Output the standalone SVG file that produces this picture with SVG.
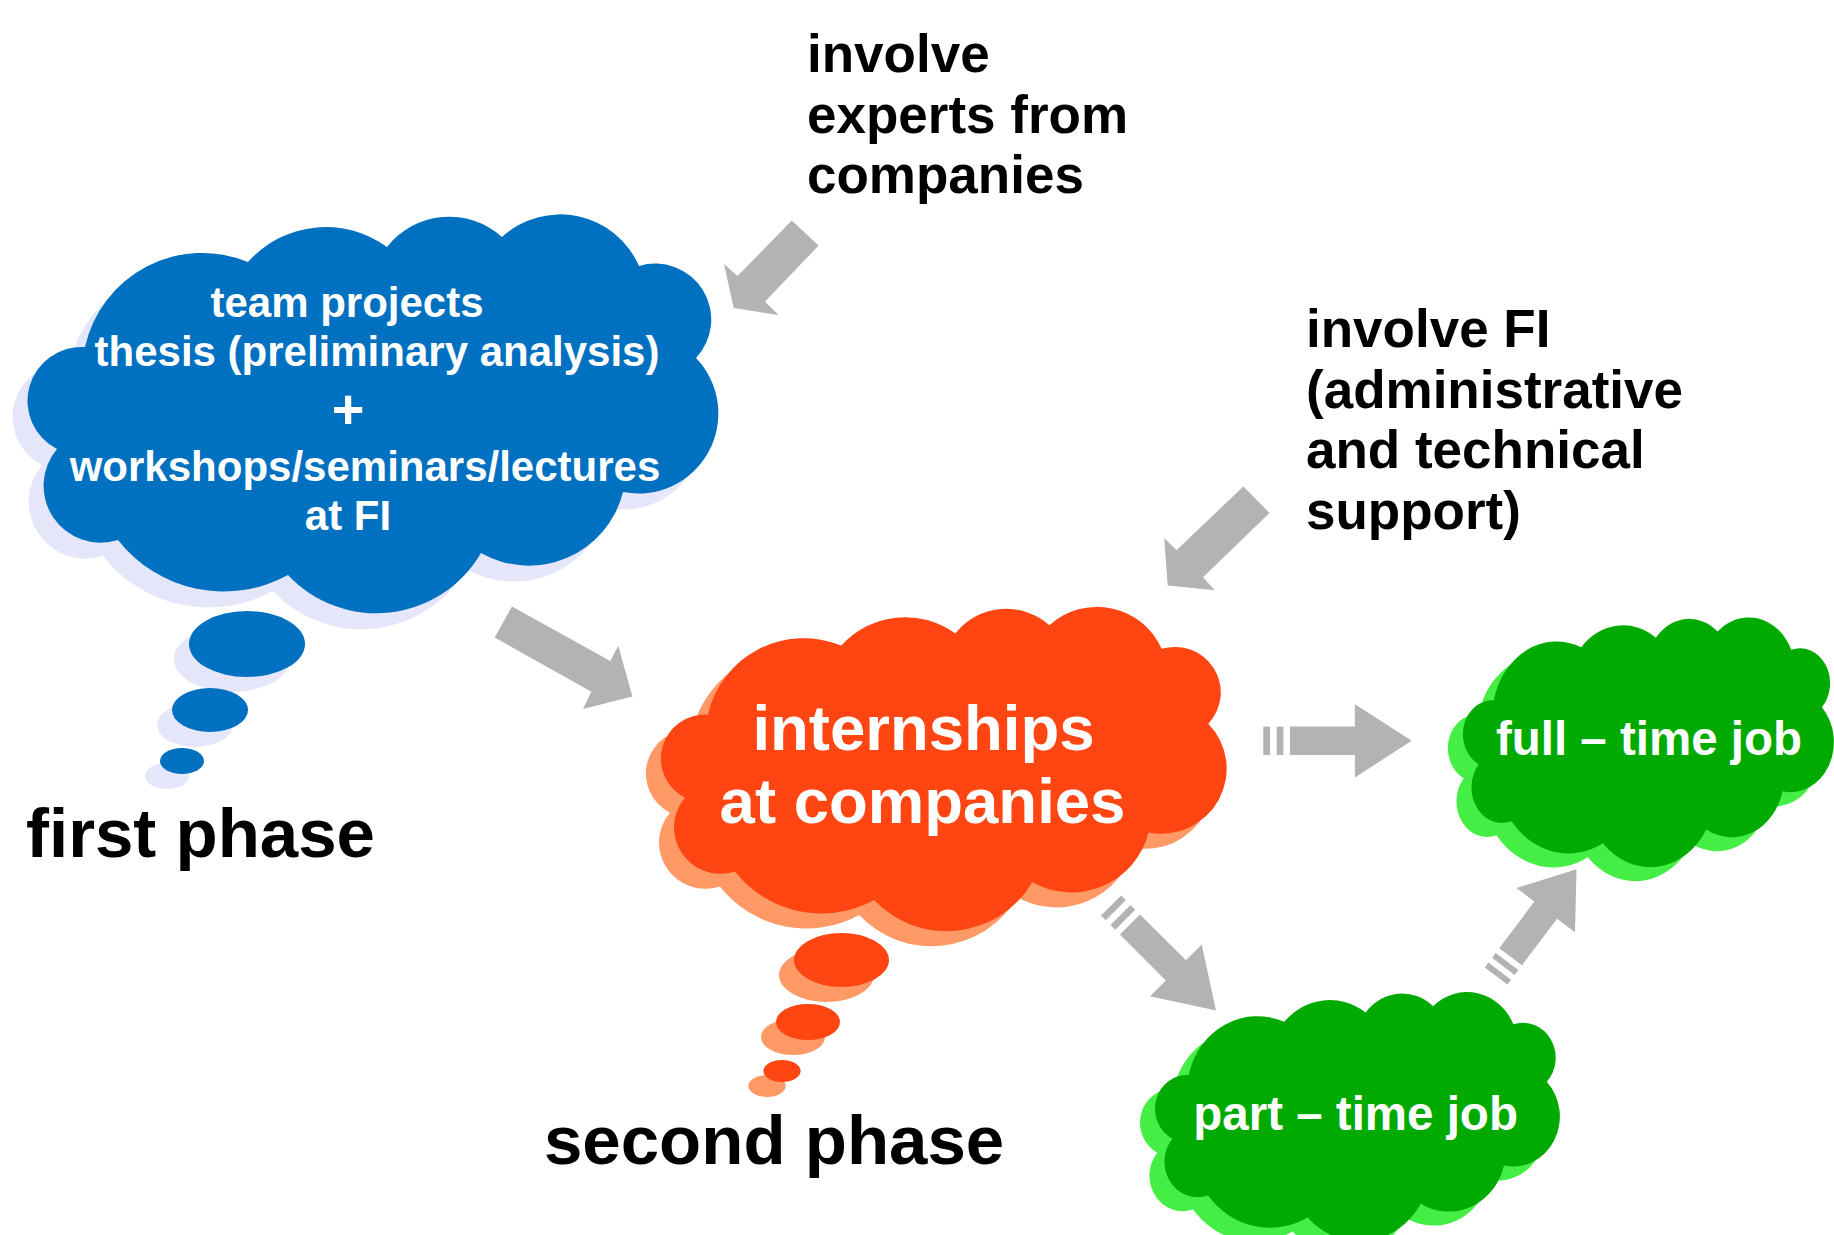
<svg xmlns="http://www.w3.org/2000/svg" xmlns:xlink="http://www.w3.org/1999/xlink" width="1834" height="1235" viewBox="0 0 1834 1235">
<style>
.t{font-family:"Liberation Sans",Arial,Helvetica,sans-serif;font-weight:bold}
.blk{fill:#000}
.wht{fill:#fff}
.mid{text-anchor:middle}
.blue{fill:#0070C0}
.blueS{fill:#E6E6FA}
.org{fill:#FF4512}
.orgS{fill:#FF9966}
.grn{fill:#00AA00}
.grnS{fill:#44EE44}
.arr{fill:#B3B3B3}
</style>
<defs>
<path id="cloud" d="M85 347 A120 120 0 0 1 248 262 A104 104 0 0 1 387 247 A79 79 0 0 1 502 237 A86 86 0 0 1 639 266 A56 56 0 0 1 696 358 A80 80 0 0 1 623 492 A97 97 0 0 1 481 553 A121 121 0 0 1 288 575 A134 134 0 0 1 118 540 A57 57 0 0 1 57 449 A54 54 0 0 1 85 347 Z"/>
<g id="sarrow">
<rect x="-148.4" y="-14.2" width="6.7" height="28.4"/>
<rect x="-135" y="-14.2" width="6.7" height="28.4"/>
<polygon points="-121.7,-14.2 -56.8,-14.2 -56.8,-36.6 0,0 -56.8,36.6 -56.8,14.2 -121.7,14.2"/>
</g>
</defs>
<rect width="1834" height="1235" fill="#fff"/>

<g id="label-experts" class="t blk" font-size="53">
<text x="807" y="72">involve</text>
<text x="807" y="132.5">experts from</text>
<text x="807" y="193">companies</text>
</g>

<g id="label-fi" class="t blk" font-size="53">
<text x="1306" y="347">involve FI</text>
<text x="1306" y="407.5">(administrative</text>
<text x="1306" y="468">and technical</text>
<text x="1306" y="528.5">support)</text>
</g>

<g id="node-first-phase">
<use xlink:href="#cloud" href="#cloud" class="blueS" transform="translate(-15,16)"/>
<ellipse class="blueS" cx="232" cy="659" rx="58" ry="33"/>
<ellipse class="blueS" cx="195" cy="725" rx="38" ry="22"/>
<ellipse class="blueS" cx="167" cy="776" rx="22" ry="13"/>
<use xlink:href="#cloud" href="#cloud" class="blue"/>
<ellipse class="blue" cx="247" cy="644" rx="58" ry="33"/>
<ellipse class="blue" cx="210" cy="710" rx="38" ry="22"/>
<ellipse class="blue" cx="182" cy="761" rx="22" ry="13"/>
<g class="t wht mid" font-size="42">
<text x="347" y="317">team projects</text>
<text x="377" y="366">thesis (preliminary analysis)</text>
<text x="348" y="428" font-size="56">+</text>
<text x="365" y="481">workshops/seminars/lectures</text>
<text x="348" y="530">at FI</text>
</g>
</g>
<text id="label-first-phase" class="t blk" font-size="69" x="26" y="857">first phase</text>

<g id="node-second-phase">
<use xlink:href="#cloud" href="#cloud" class="orgS" transform="translate(623.3,447.6) scale(0.819,0.813)"/>
<ellipse class="orgS" cx="826.5" cy="975" rx="47.5" ry="27"/>
<ellipse class="orgS" cx="793" cy="1037" rx="32" ry="18"/>
<ellipse class="orgS" cx="767" cy="1086" rx="18.6" ry="11"/>
<use xlink:href="#cloud" href="#cloud" class="org" transform="translate(638.3,432.6) scale(0.819,0.813)"/>
<ellipse class="org" cx="841.5" cy="960" rx="47.5" ry="27"/>
<ellipse class="org" cx="808" cy="1022" rx="32" ry="18"/>
<ellipse class="org" cx="782" cy="1071" rx="18.6" ry="11"/>
<g class="t wht mid" font-size="63.5">
<text x="923.5" y="750">internships</text>
<text x="922.5" y="823">at companies</text>
</g>
</g>
<text id="label-second-phase" class="t blk" font-size="69" x="544" y="1164">second phase</text>

<g id="node-full-time">
<use xlink:href="#cloud" href="#cloud" class="grnS" transform="translate(1433.1,497.2) scale(0.537,0.626)"/>
<use xlink:href="#cloud" href="#cloud" class="grn" transform="translate(1448.1,483.2) scale(0.537,0.626)"/>
<text class="t wht mid" font-size="47.5" x="1649" y="755">full – time job</text>
</g>

<g id="node-part-time">
<use xlink:href="#cloud" href="#cloud" class="grnS" transform="translate(1123.9,872.1) scale(0.586,0.625)"/>
<use xlink:href="#cloud" href="#cloud" class="grn" transform="translate(1138.9,858.1) scale(0.586,0.625)"/>
<text class="t wht mid" font-size="47.5" x="1355.6" y="1130">part – time job</text>
</g>

<g id="connectors" class="arr">
<polygon points="791.8,220.6 818.6,245.6 765,301.6 778.5,315 733.7,308 724,264 737.5,276"/>
<polygon points="1243.4,486.4 1269.5,513 1203,577.3 1214.7,590.3 1167.7,585.6 1164.2,538 1176.5,550.3"/>
<polygon points="512,606.4 494.6,637.4 591.4,691.8 582.9,709 632.4,696.4 618.3,645.8 610.3,661"/>
<use xlink:href="#sarrow" href="#sarrow" transform="translate(1411.7,740.8)"/>
<use xlink:href="#sarrow" href="#sarrow" transform="translate(1216,1010.5) rotate(45)"/>
<use xlink:href="#sarrow" href="#sarrow" transform="translate(1576.5,869.3) rotate(-53) scale(0.9,1)"/>
</g>
</svg>
